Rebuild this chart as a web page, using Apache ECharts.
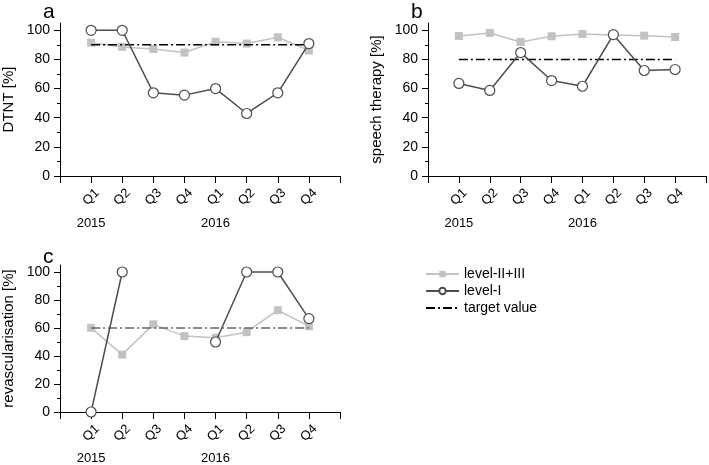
<!DOCTYPE html>
<html>
<head>
<meta charset="utf-8">
<script src="https://cdn.jsdelivr.net/npm/echarts@6/dist/echarts.min.js"></script>
<style>
html,body{margin:0;padding:0;background:#fff;}
#chart{width:709px;height:465px;}
</style>
</head>
<body>
<div id="chart"></div>
<script>
// ---- data ----
const quarters = ['Q1','Q2','Q3','Q4','Q1','Q2','Q3','Q4'];
const years = ['2015','','','','2016','','',''];
const yTicks = [0,20,40,60,80,100];
const yMinorTicks = [10,30,50,70,90];

const dtntLevel23 = [91.5, 88.6, 87.2, 84.7, 92.2, 90.9, 95.2, 86.1];
const dtntLevel1  = [100, 100, 57.1, 55.5, 60, 42.9, 57.1, 90.9];
const dtntTarget  = 90;

const speechLevel23 = [96.1, 98.2, 92.0, 95.9, 97.5, 96.8, 96.3, 95.4];
const speechLevel1  = [63.5, 58.7, 84.7, 65.5, 61.6, 97.0, 72.4, 73.1];
const speechTarget  = 80;

const revascLevel23 = [60.1, 41.0, 62.6, 54.2, 53.0, 57.0, 72.7, 61.3];
const revascLevel1  = [0, 100, null, null, 50, 100, 100, 66.7];
const revascTarget  = 60;

const panelLetters = ['a','b','c'];
const yNames = ['DTNT [%]','speech therapy [%]','revascularisation [%]'];

// ---- build ----
const FONT = 'Liberation Sans, Arial, sans-serif';
const toPts = arr => arr.map((v,i)=>[i+1, v]);
const targetPts = v => [[1, v],[quarters.length, v]];

const grids = [
  {left:60, top:23, width:280, height:153},
  {left:428, top:23, width:280, height:153},
  {left:60, top:265, width:280, height:154}
];

const xAxes = [], yAxes = [], series = [];
const panels = [
  {l23: dtntLevel23, l1: dtntLevel1, t: dtntTarget, tColor:'#000'},
  {l23: speechLevel23, l1: speechLevel1, t: speechTarget, tColor:'#000'},
  {l23: revascLevel23, l1: revascLevel1, t: revascTarget, tColor:'#666'}
];

panels.forEach((p, gi) => {
  xAxes.push({
    gridIndex: gi, type:'value', min:0, max:quarters.length+1, interval:1,
    axisLine:{show:true, onZero:false, lineStyle:{color:'#000', width:1}},
    axisTick:{show:true, length:7, inside:false, lineStyle:{color:'#000'}},
    splitLine:{show:false},
    axisLabel:{rotate:45, margin:21, align:'center', verticalAlign:'middle',
      fontSize:13, fontFamily:FONT, color:'#000',
      formatter: v => (v>=1 && v<=quarters.length) ? quarters[v-1] : ''}
  });
  xAxes.push({
    gridIndex: gi, type:'value', min:0, max:quarters.length+1, interval:1,
    position:'bottom', offset: gi===2 ? 32 : 33,
    axisLine:{show:false}, axisTick:{show:false}, splitLine:{show:false},
    axisLabel:{margin:8, fontSize:13, fontFamily:FONT, color:'#000',
      formatter: v => (v>=1 && v<=quarters.length) ? years[v-1] : ''}
  });
  yAxes.push({
    gridIndex: gi, type:'value', min:0, max:105,
    name: yNames[gi], nameLocation:'middle', nameGap:44,
    nameTextStyle:{fontSize:15, fontFamily:FONT, color:'#000'},
    axisLine:{show:true, onZero:false, lineStyle:{color:'#000', width:1}},
    axisTick:{show:true, length:6, customValues: yTicks, lineStyle:{color:'#000'}},
    splitLine:{show:false},
    axisLabel:{margin:10, fontSize:14, fontFamily:FONT, color:'#000', customValues: yTicks}
  });
  yAxes.push({
    gridIndex: gi, type:'value', min:0, max:105, position:'left',
    axisLine:{show:false},
    axisTick:{show:true, length:3, customValues: yMinorTicks, lineStyle:{color:'#000'}},
    splitLine:{show:false},
    axisLabel:{show:false}
  });

  const xi = gi*2, yi = gi*2;
  series.push({
    name:'level-II+III', type:'line', xAxisIndex:xi, yAxisIndex:yi,
    data: toPts(p.l23), symbol:'rect', symbolSize:8, showSymbol:true,
    lineStyle:{color:'#c2c2c2', width:1.5}, itemStyle:{color:'#c2c2c2', borderWidth:0},
    z:2, animation:false
  });
  series.push({
    name:'target value', type:'line', xAxisIndex:xi, yAxisIndex:yi,
    data: targetPts(p.t), symbol:'none',
    lineStyle:{color:p.tColor, width:1.5, type:[9,3,2,3]}, itemStyle:{color:p.tColor},
    z:3, animation:false
  });
  series.push({
    name:'level-I', type:'line', xAxisIndex:xi, yAxisIndex:yi,
    data: toPts(p.l1), symbol:'circle', symbolSize:10, showSymbol:true, connectNulls:false,
    lineStyle:{color:'#4d4d4d', width:1.5},
    itemStyle:{color:'#fff', borderColor:'#4d4d4d', borderWidth:1.2},
    z:4, animation:false
  });
});

const chart = echarts.init(document.getElementById('chart'), null, {renderer:'canvas'});
chart.setOption({
  animation:false,
  backgroundColor:'#fff',
  title: [
    {text: panelLetters[0], left:38, top:-3, textStyle:{fontSize:21, fontWeight:'normal', fontFamily:FONT, color:'#000'}},
    {text: panelLetters[1], left:406, top:-3, textStyle:{fontSize:21, fontWeight:'normal', fontFamily:FONT, color:'#000'}},
    {text: panelLetters[2], left:38, top:242, textStyle:{fontSize:21, fontWeight:'normal', fontFamily:FONT, color:'#000'}}
  ],
  legend: {
    orient:'vertical', left:420, top:261, itemWidth:33, itemHeight:8, itemGap:1,
    data:[
      {name:'level-II+III'},
      {name:'level-I'},
      {name:'target value', itemStyle:{opacity:0}}
    ],
    textStyle:{fontSize:14, fontFamily:FONT, color:'#000', lineHeight:16}
  },
  grid: grids,
  xAxis: xAxes,
  yAxis: yAxes,
  series: series
});
</script>
</body>
</html>
